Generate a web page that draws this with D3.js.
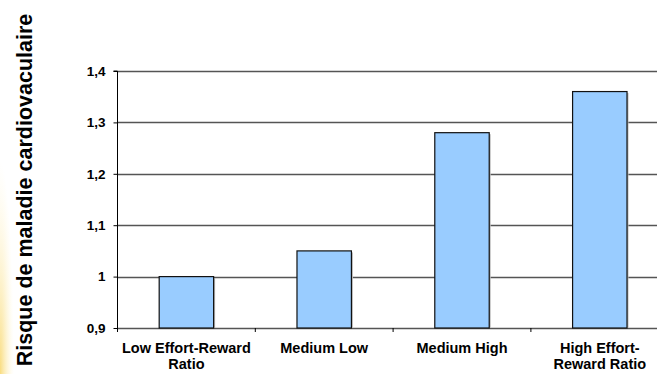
<!DOCTYPE html>
<html>
<head>
<meta charset="utf-8">
<script src="https://cdn.jsdelivr.net/npm/d3@7"></script>
<style>
  body { margin: 0; background: #fff; }
  svg { display: block; font-family: "Liberation Sans", Arial, sans-serif; }
</style>
</head>
<body>
<svg id="chart" width="657" height="374"></svg>
<script>
const categories = [['Low Effort-Reward', 'Ratio'], ['Medium Low'], ['Medium High'], ['High Effort-', 'Reward Ratio']]
const values = [1.0, 1.05, 1.28, 1.36]
const yTicks = [0.9, 1.0, 1.1, 1.2, 1.3, 1.4]
const yTitle = 'Risque de maladie cardiovaculaire'

const svg = d3.select('#chart')
const plotLeft = 117.5
const plotRight = 668.7
const plotTop = 71
const plotBottom = 328

// soft yellow glow on the left edge
const defs = svg.append('defs')
const grad = defs.append('radialGradient')
  .attr('id', 'glow')
  .attr('cx', 0).attr('cy', 1).attr('r', 1)
grad.append('stop').attr('offset', '0%').attr('stop-color', '#f8d870').attr('stop-opacity', 0.9)
grad.append('stop').attr('offset', '100%').attr('stop-color', '#fff6d0').attr('stop-opacity', 0)
svg.append('rect')
  .attr('x', 0).attr('y', 160).attr('width', 14).attr('height', 214)
  .attr('fill', 'url(#glow)')

const x = d3.scaleBand()
  .domain(d3.range(categories.length))
  .range([plotLeft, plotRight])
  .paddingInner(0.605)
  .paddingOuter(0.3025)

const y = d3.scaleLinear()
  .domain([0.9, 1.4])
  .range([plotBottom, plotTop])

const fmt = d => (d === 1 ? '1' : d3.format('.1f')(d).replace('.', ','))

// gridlines
svg.append('g')
  .selectAll('line')
  .data(yTicks)
  .join('line')
  .attr('x1', plotLeft).attr('x2', 657)
  .attr('y1', d => Math.round(y(d)) + 0.5)
  .attr('y2', d => Math.round(y(d)) + 0.5)
  .attr('stroke', '#555')
  .attr('stroke-width', 1.3)

// y axis
const yAxis = d3.axisLeft(y).tickValues(yTicks).tickFormat(fmt).tickSize(4).tickPadding(8)
const gy = svg.append('g')
  .attr('transform', `translate(${plotLeft},0)`)
  .call(yAxis)
gy.select('.domain').attr('d', `M-4,${plotTop}H0V${plotBottom + 4}`).attr('stroke', '#000')
gy.selectAll('.tick line').attr('stroke', '#000')
gy.selectAll('.tick text')
  .attr('font-size', 13.5).attr('font-weight', 'bold').attr('fill', '#000')
  .attr('font-family', '"Liberation Sans", Arial, sans-serif')

// x category ticks
const step = x.step()
svg.append('g')
  .selectAll('line')
  .data(d3.range(1, categories.length + 1))
  .join('line')
  .attr('x1', i => plotLeft + i * step).attr('x2', i => plotLeft + i * step)
  .attr('y1', plotBottom).attr('y2', plotBottom + 4)
  .attr('stroke', '#000')

// bar shadow
svg.append('g')
  .selectAll('rect')
  .data(values)
  .join('rect')
  .attr('x', (d, i) => x(i) + 1.5)
  .attr('y', d => y(d) + 1.5)
  .attr('width', x.bandwidth())
  .attr('height', d => plotBottom - y(d) - 1.5)
  .attr('fill', '#bbb')

// bars
svg.append('g')
  .selectAll('rect')
  .data(values)
  .join('rect')
  .attr('x', (d, i) => x(i))
  .attr('y', d => y(d))
  .attr('width', x.bandwidth())
  .attr('height', d => plotBottom - y(d))
  .attr('fill', '#99ccff')
  .attr('stroke', '#111')
  .attr('stroke-width', 1.2)

// category labels
const lab = svg.append('g')
  .selectAll('text')
  .data(categories)
  .join('text')
  .attr('x', (d, i) => x(i) + x.bandwidth() / 2)
  .attr('y', 353)
  .attr('text-anchor', 'middle')
  .attr('font-size', 14.5)
  .attr('font-weight', 'bold')
lab.selectAll('tspan')
  .data(d => d)
  .join('tspan')
  .attr('x', function () { return this.parentNode.getAttribute('x') })
  .attr('dy', (d, i) => (i === 0 ? 0 : 15.5))
  .text(d => d)

// y title
svg.append('text')
  .attr('transform', 'translate(32,190) rotate(-90)')
  .attr('text-anchor', 'middle')
  .attr('font-size', 21.5)
  .attr('font-weight', 'bold')
  .text(yTitle)
</script>
</body>
</html>
